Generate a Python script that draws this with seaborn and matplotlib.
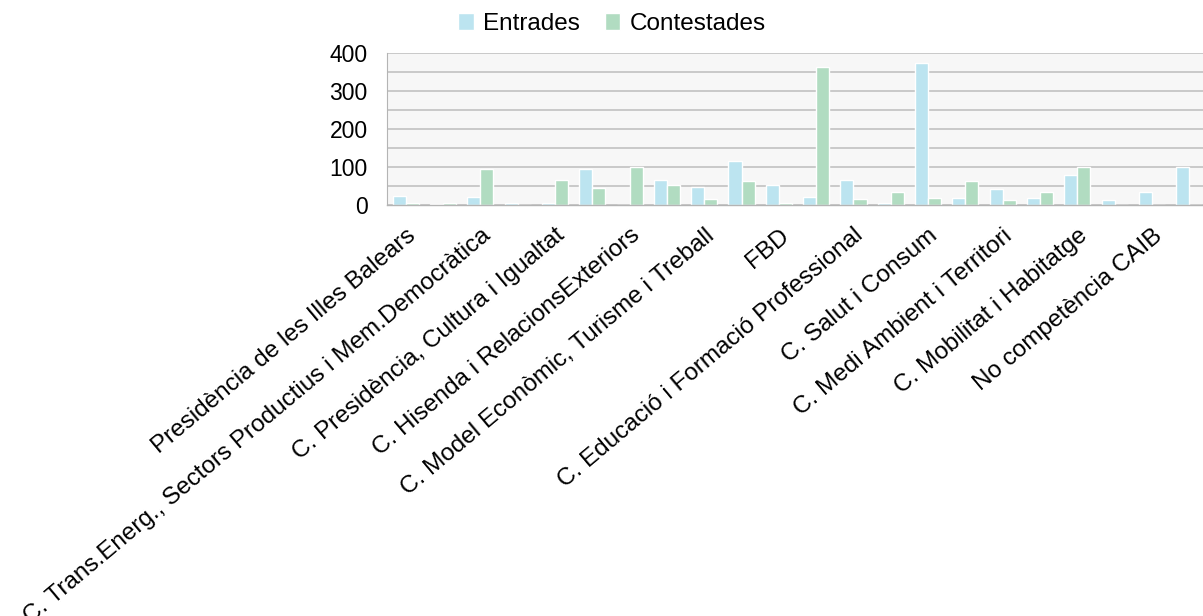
import pandas as pd
import matplotlib.pyplot as plt
import seaborn as sb
import numpy as np

# 22 grups; LibreOffice nomes mostra l'etiqueta d'un de cada dos
etiquetes = ['Presidència de les Illes Balears',
             'C. Trans.Energ., Sectors Productius i Mem.Democràtica',
             'C. Presidència, Cultura i Igualtat',
             'C. Hisenda i RelacionsExteriors',
             'C. Model Econòmic, Turisme i Treball',
             'FBD',
             'C. Educació i Formació Professional',
             'C. Salut i Consum',
             'C. Medi Ambient i Territori',
             'C. Mobilitat i Habitatge',
             'No competència CAIB']
entrades = [25, 3, 20, 5, 5, 96, 0, 65, 47, 115, 52,
            20, 67, 5, 375, 18, 41, 18, 80, 12, 33, 101]
contestades = [5, 5, 94, 0, 65, 44, 100, 52, 15, 62, 5,
               362, 15, 33, 18, 62, 12, 33, 100, 0, 0, 0]
series = ['Entrades', 'Contestades']
colors = {'Entrades': '#bce4f0', 'Contestades': '#b1dcc1'}

n = len(entrades)
df = pd.DataFrame({
    'grup': list(range(n)) * 2,
    'serie': ['Entrades'] * n + ['Contestades'] * n,
    'valor': entrades + contestades,
})

sb.set_style('white')
plt.rcParams['font.family'] = ['Liberation Sans', 'DejaVu Sans']
plt.rcParams['text.color'] = 'black'
plt.rcParams['xtick.color'] = 'black'
plt.rcParams['ytick.color'] = 'black'

fig = plt.figure(figsize=(12.03, 6.16), dpi=100)
ax = fig.add_axes([387 / 1203, 1 - 205 / 616, (1208 - 387) / 1203, (205 - 53) / 616])
ax.set_facecolor('#f7f7f7')

sb.barplot(data=df, x='grup', y='valor', hue='serie', hue_order=series,
           palette=colors, width=0.7, saturation=1, gap=0, ax=ax, legend=True)

ax.set_xlim(-0.5, n - 0.5)
ax.set_ylim(0, 400)
ax.set_xlabel('')
ax.set_ylabel('')

# graella cada 50, etiquetes cada 100
ax.set_yticks([0, 100, 200, 300, 400])
ax.set_yticks(np.arange(50, 400, 100), minor=True)
ax.grid(True, axis='y', which='both', color='#c6c6c6', lw=1.3)
ax.set_axisbelow(True)
ax.tick_params(axis='y', which='both', length=9, width=1, color='#b4b4b4',
               labelsize=16.5, pad=5)
for t in ax.get_yticklabels():
    t.set_color('black')

ax.set_xticks(np.arange(0, n - 1, 2))
ax.set_xticklabels(etiquetes, rotation=40, ha='right', va='top',
                   rotation_mode='anchor', fontsize=17.5, color='black')
ax.set_xticks(np.arange(-0.5, n, 1), minor=True)
ax.tick_params(axis='x', which='major', length=0, pad=14)
ax.tick_params(axis='x', which='minor', length=7, width=1, color='#b4b4b4')

for s in ['top', 'right']:
    ax.spines[s].set_visible(False)
ax.spines['left'].set_color('#b4b4b4')
ax.spines['bottom'].set_color('#b4b4b4')
ax.spines['bottom'].set_linewidth(1)

leg = ax.legend(loc='center', bbox_to_anchor=(612 / 1203, 1 - 24 / 616),
                bbox_transform=fig.transFigure, ncol=2, frameon=False,
                fontsize=17.5, handlelength=0.65, handleheight=0.65,
                handletextpad=0.4, columnspacing=1.0)

plt.savefig('out.png', dpi=100)
